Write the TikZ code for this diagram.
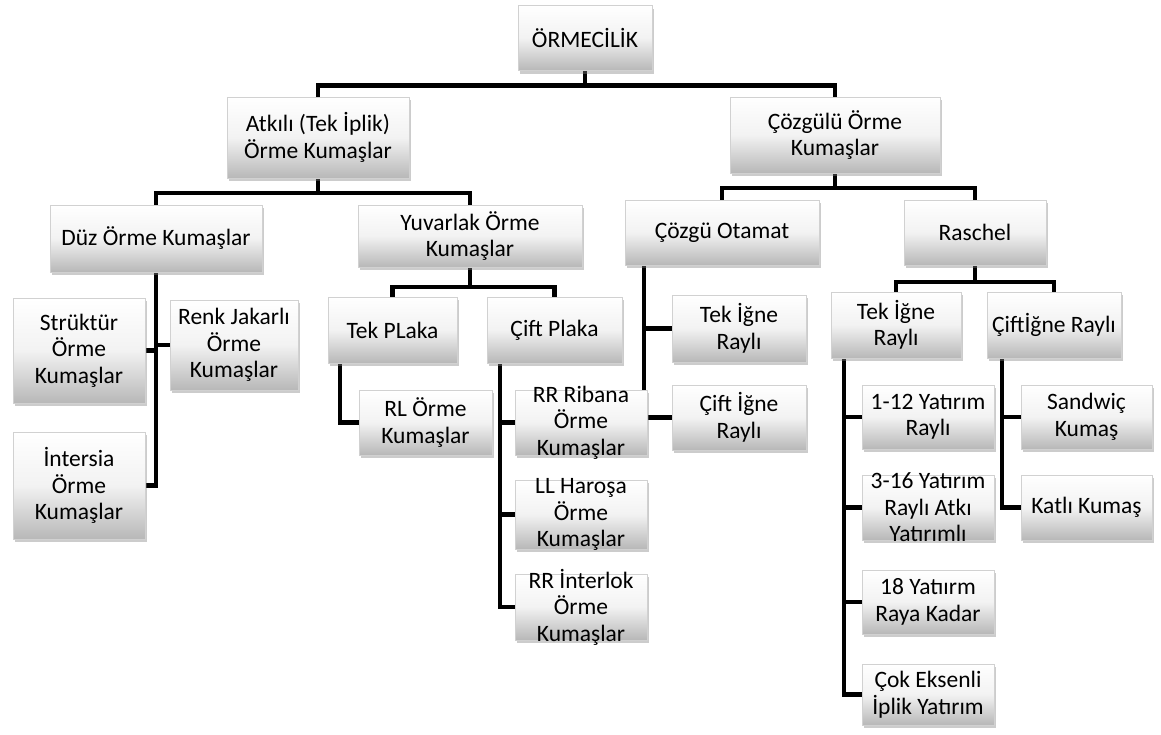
\documentclass[tikz,border=0pt]{standalone}
\usepackage{fontspec}
\setmainfont{Carlito}
\usepackage{tikz}
\usetikzlibrary{positioning,shadows,calc}
\pgfdeclarelayer{bg}
\pgfsetlayers{bg,main}
\tikzset{
box/.style={
draw=black!18,
top color=white,
bottom color=black!28,
middle color=black!5,
drop shadow={opacity=0.4,shadow xshift=1.5pt,shadow yshift=-3pt},
inner sep=0pt,
align=center,
font=\fontsize{23.5}{26.5}\selectfont
},
sz/.style 2 args={
minimum width=#1,
minimum height=#2
},
lbl/.style={
align=center,
inner sep=0pt,
font=\fontsize{23.5}{26.5}\selectfont
},
conn/.style={
line width=4.5pt,
draw=black
}
}

\begin{document}
\begin{tikzpicture}[x=1pt,y=-1pt]
\useasboundingbox (0,0) rectangle (1161,734);

% top levels
\node[box,sz={134}{65}](root) at (585,38){ÖRMECİLİK};
\node[box,sz={182}{81}](atk) at (318,137.5){Atkılı (Tek İplik)\\Örme Kumaşlar};
\node[box,sz={210}{76}](coz) at (835,135){Çözgülü Örme\\Kumaşlar};

\node[box,sz={212}{67}](duz) at (156,238.5){Düz Örme Kumaşlar};
\node[box,sz={224}{62}](yuv) at (470,236){Yuvarlak Örme\\Kumaşlar};
\node[box,sz={194}{65}](otm) at (722,232.5){Çözgü Otamat};
\node[box,sz={142}{65}](ras) at (975,232.5){Raschel};

% weft side
\node[box,sz={132}{105}](strk) at (79,350.5){Strüktür\\Örme\\Kumaşlar};
\node[box,sz={128}{90}](renk) at (234,345){Renk Jakarlı\\Örme\\Kumaşlar};
\node[box,sz={132}{107}](intr) at (79,485.5){İntersia\\Örme\\Kumaşlar};
\node[box,sz={129}{66}](tekp) at (392.5,330){Tek PLaka};
\node[box,sz={135}{66}](cift) at (554.5,330){Çift Plaka};
\node[box,sz={133}{65}](rl) at (425.5,422.5){RL Örme\\Kumaşlar};
\node[box,sz={132}{65},label={[lbl]center:RR Ribana\\Örme\\Kumaşlar}](rib) at (581,422.5){};
\node[box,sz={132}{69},label={[lbl]center:LL Haroşa\\Örme\\Kumaşlar}](har) at (581,514.5){};
\node[box,sz={132}{66},label={[lbl]center:RR İnterlok\\Örme\\Kumaşlar}](ilk) at (581,607){};

% warp side
\node[box,sz={134}{67}](otek) at (739,328.5){Tek İğne\\Raylı};
\node[box,sz={134}{65}](ocift) at (739,417.5){Çift İğne\\Raylı};
\node[box,sz={130}{66}](rtek) at (896,325){Tek İğne\\Raylı};
\node[box,sz={134}{66}](rcift) at (1054,325){Çiftİğne Raylı};
\node[box,sz={132}{64}](y1) at (928,417){1-12 Yatırım\\Raylı};
\node[box,sz={132}{65},label={[lbl]center:3-16 Yatırım\\Raylı Atkı\\Yatırımlı}](y3) at (928,507.5){};
\node[box,sz={132}{64}](y18) at (928,602){18 Yatıırm\\Raya Kadar};
\node[box,sz={132}{61}](yck) at (928,694.5){Çok Eksenli\\İplik Yatırım};
\node[box,sz={131}{64}](snd) at (1086.5,417){Sandwiç\\Kumaş};
\node[box,sz={131}{65}](ktl) at (1086.5,507.5){Katlı Kumaş};

\begin{pgfonlayer}{bg}
\foreach \c in {atk,coz}
\draw[conn](root.south)--++(0,15)-|(\c.north);
\foreach \c in {duz,yuv}
\draw[conn](atk.south)--++(0,15)-|(\c.north);
\foreach \c in {otm,ras}
\draw[conn](coz.south)--++(0,15)-|(\c.north);
\foreach \c in {tekp,cift}
\draw[conn](yuv.south)--++(0,20)-|(\c.north);
\foreach \c in {rtek,rcift}
\draw[conn](ras.south)--++(0,17)-|(\c.north);

\foreach \c/\s in {strk/east,renk/west,intr/east}
\draw[conn](duz.south)|-(\c.\s);
\draw[conn]([xshift=12]tekp.south west)|-(rl.west);
\foreach \c in {rib,har,ilk}
\draw[conn]([xshift=13]cift.south west)|-(\c.west);
\foreach \c in {otek,ocift}
\draw[conn]([xshift=19]otm.south west)|-(\c.west);
\foreach \c in {y1,y3,y18,yck}
\draw[conn]([xshift=13]rtek.south west)|-(\c.west);
\foreach \c in {snd,ktl}
\draw[conn]([xshift=15]rcift.south west)|-(\c.west);
\end{pgfonlayer}
\end{tikzpicture}
\end{document}
